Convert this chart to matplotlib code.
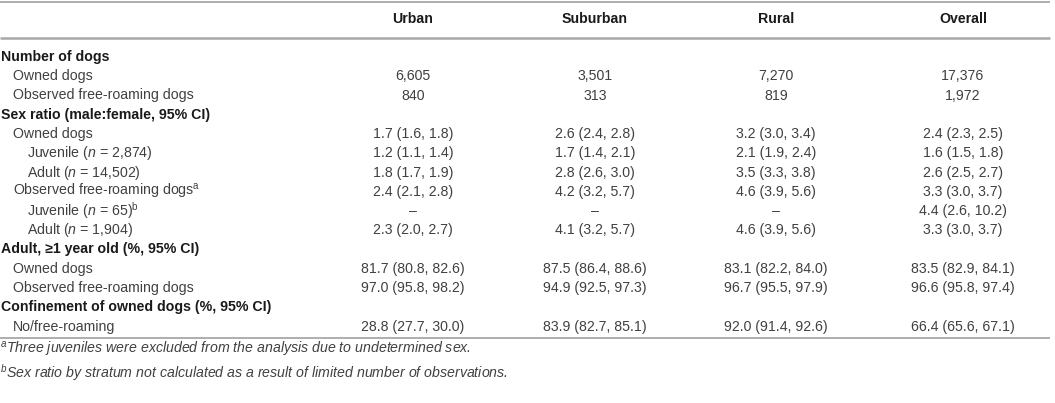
import matplotlib.pyplot as plt

FONT = 'Liberation Sans'
plt.rcParams['mathtext.fontset'] = 'custom'
plt.rcParams['mathtext.rm'] = FONT
plt.rcParams['mathtext.it'] = FONT + ':italic'
plt.rcParams['mathtext.bf'] = FONT + ':bold'

# table content
columns = ["Urban", "Suburban", "Rural", "Overall"]

row_labels = [
    "Number of dogs",
    "Owned dogs",
    "Observed free-roaming dogs",
    "Sex ratio (male:female, 95% CI)",
    "Owned dogs",
    r"Juvenile ($\mathit{n}$ = 2,874)",
    r"Adult ($\mathit{n}$ = 14,502)",
    r"Observed free-roaming dogs$^{\rm a}$",
    r"Juvenile ($\mathit{n}$ = 65)$^{\rm b}$",
    r"Adult ($\mathit{n}$ = 1,904)",
    "Adult, \u22651 year old (%, 95% CI)",
    "Owned dogs",
    "Observed free-roaming dogs",
    "Confinement of owned dogs (%, 95% CI)",
    "No/free-roaming",
]
row_level = [0, 1, 1, 0, 1, 2, 2, 1, 2, 2, 0, 1, 1, 0, 1]

urban = ["", "6,605", "840", "", "1.7 (1.6, 1.8)", "1.2 (1.1, 1.4)", "1.8 (1.7, 1.9)",
         "2.4 (2.1, 2.8)", "\u2013", "2.3 (2.0, 2.7)", "", "81.7 (80.8, 82.6)",
         "97.0 (95.8, 98.2)", "", "28.8 (27.7, 30.0)"]
suburban = ["", "3,501", "313", "", "2.6 (2.4, 2.8)", "1.7 (1.4, 2.1)", "2.8 (2.6, 3.0)",
            "4.2 (3.2, 5.7)", "\u2013", "4.1 (3.2, 5.7)", "", "87.5 (86.4, 88.6)",
            "94.9 (92.5, 97.3)", "", "83.9 (82.7, 85.1)"]
rural = ["", "7,270", "819", "", "3.2 (3.0, 3.4)", "2.1 (1.9, 2.4)", "3.5 (3.3, 3.8)",
         "4.6 (3.9, 5.6)", "\u2013", "4.6 (3.9, 5.6)", "", "83.1 (82.2, 84.0)",
         "96.7 (95.5, 97.9)", "", "92.0 (91.4, 92.6)"]
overall = ["", "17,376", "1,972", "", "2.4 (2.3, 2.5)", "1.6 (1.5, 1.8)", "2.6 (2.5, 2.7)",
           "3.3 (3.0, 3.7)", "4.4 (2.6, 10.2)", "3.3 (3.0, 3.7)", "", "83.5 (82.9, 84.1)",
           "96.6 (95.8, 97.4)", "", "66.4 (65.6, 67.1)"]

footnotes = [
    r"$^{\it a}$Three juveniles were excluded from the analysis due to undetermined sex.",
    r"$^{\it b}$Sex ratio by stratum not calculated as a result of limited number of observations.",
]

# layout (pixels)
W, H = 1055, 403
col_x = [413, 595, 776, 963]
header_y = 19
first_row_y = 57
row_step = 19.25
indent = [1, 13, 27]
fs = 10.2
txt = '#404040'
bold_c = '#1a1a1a'
line_c = '#a8a8a8'

fig = plt.figure(figsize=(W / 100, H / 100), dpi=100)
ax = fig.add_axes([0, 0, 1, 1])
ax.set_xlim(0, W)
ax.set_ylim(H, 0)
ax.axis('off')

ax.plot([0, 1050], [1.5, 1.5], color=line_c, lw=1.3, solid_capstyle='butt')
ax.plot([0, 1050], [37.5, 37.5], color=line_c, lw=1.8, solid_capstyle='butt')

for x, name in zip(col_x, columns):
    ax.text(x, header_y, name, ha='center', va='center', fontsize=fs,
            family=FONT, weight='bold', color=bold_c)

data_cols = [urban, suburban, rural, overall]
for i, (lab, lev) in enumerate(zip(row_labels, row_level)):
    y = first_row_y + i * row_step
    if lev == 0:
        ax.text(indent[0], y, lab, ha='left', va='center', fontsize=fs,
                family=FONT, weight='bold', color=bold_c)
    else:
        ax.text(indent[lev], y, lab, ha='left', va='center', fontsize=fs,
                family=FONT, color=txt)
    for x, col in zip(col_x, data_cols):
        if col[i]:
            ax.text(x, y, col[i], ha='center', va='center', fontsize=fs,
                    family=FONT, color=txt)

bottom_y = first_row_y + (len(row_labels) - 1) * row_step + 11
ax.plot([0, 1050], [bottom_y, bottom_y], color=line_c, lw=1.3, solid_capstyle='butt')

for j, note in enumerate(footnotes):
    ax.text(0, bottom_y + 12 + j * 23, note, ha='left', va='center', fontsize=fs,
            family=FONT, style='italic', color=txt)

fig.savefig('out.png', dpi=100)
